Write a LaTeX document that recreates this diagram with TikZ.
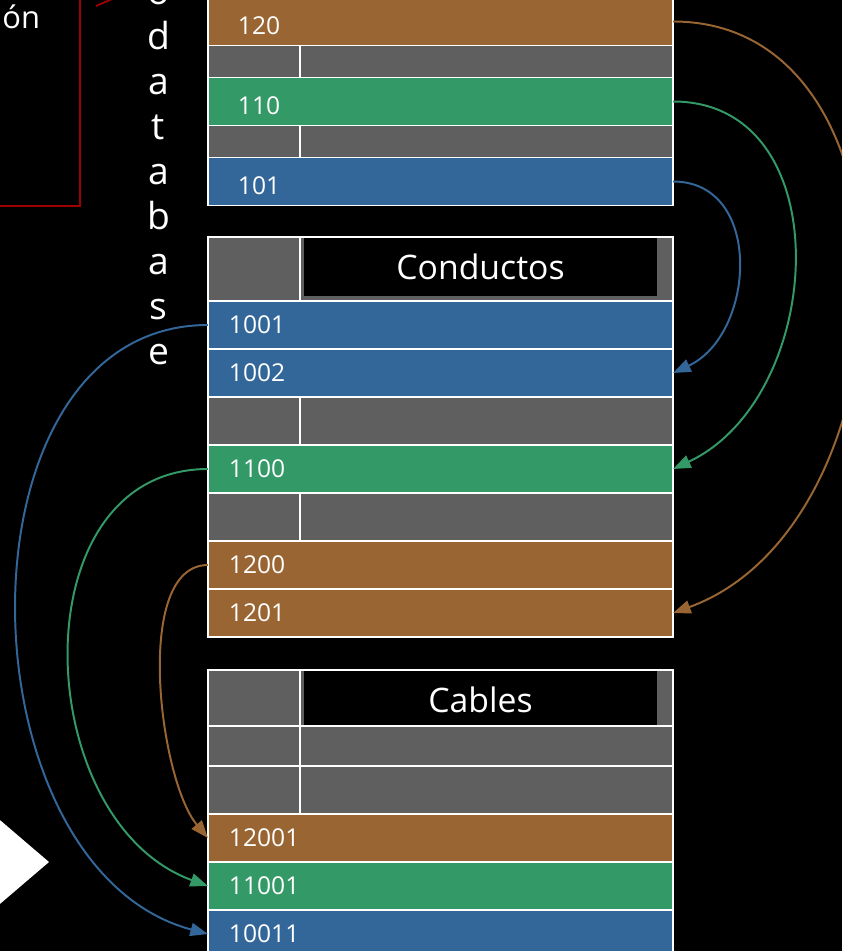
\documentclass[tikz,border=0pt]{standalone}
\usepackage{fontspec}
\setmainfont{Open Sans}
\usepackage{xcolor}
\definecolor{rowbrown}{HTML}{996633}
\definecolor{rowgreen}{HTML}{339966}
\definecolor{rowblue}{HTML}{336699}
\definecolor{rowgray}{HTML}{5F5F5F}
\definecolor{boxred}{HTML}{A00000}
\usepackage{tikz}
\usetikzlibrary{arrows.meta, positioning}

\begin{document}
\begin{tikzpicture}[
  x=0.025cm, y=-0.025cm,
  every node/.style={text=white, outer sep=0pt},
  datarow/.style={rectangle, draw=white, line width=1pt, minimum width=11.625cm,
                  minimum height=1.2cm, text width=10.575cm, inner xsep=0.525cm,
                  inner ysep=0pt, align=left, font=\fontsize{17.5}{20}\selectfont},
  toprow/.style={datarow, text width=10.125cm, inner xsep=0.75cm,
                 text height=18.2pt, text depth=0pt},
  keycell/.style={rectangle, draw=white, line width=1pt, fill=rowgray,
                  minimum width=2.3cm, inner sep=0pt},
  gapcell/.style={keycell, minimum width=9.325cm},
  titlebox/.style={rectangle, fill=black, minimum width=8.825cm, inner sep=0pt,
                   font=\fontsize{24}{28}\selectfont},
  linkarr/.style={-{Triangle[length=4.4mm, width=3.3mm]}, line width=1.4pt}
]
  \useasboundingbox (0,0) rectangle (842,951);
  \fill[black] (0,0) rectangle (842,951);
  \clip (0,0) rectangle (842,951);

  % frame on the left and its word
  \draw[boxred, line width=1.3pt] (-20,-20) rectangle (80,206);
  \node[font=\fontsize{22}{26}\selectfont, anchor=base east, inner sep=0pt] (tagword) at (40,29) {ón};
  \coordinate (redA) at (96,6);
  \coordinate (redB) at (124,-6);
  \draw[boxred, line width=1.3pt] (redA) -- (redB);

  % vertical title (base = last line)
  \node[font=\fontsize{26.5}{32}\selectfont, align=center, anchor=base, inner sep=0pt] (dbword)
    at (158.5,364) {o\\d\\a\\t\\a\\b\\a\\s\\e};

  % first table
  \node[toprow, fill=rowbrown] (c120) at (440.5,21.5) {120};
  \node[keycell, minimum height=0.8cm] (t1k1) at (254,61.5) {};
  \node[gapcell, minimum height=0.8cm] (t1w1) at (486.5,61.5) {};
  \node[toprow, fill=rowgreen] (c110) at (440.5,101.5) {110};
  \node[keycell, minimum height=0.8cm] (t1k2) at (254,141.5) {};
  \node[gapcell, minimum height=0.8cm] (t1w2) at (486.5,141.5) {};
  \node[toprow, fill=rowblue] (c101) at (440.5,181.5) {101};

  % Conductos
  \node[keycell, minimum height=1.6cm] (t2k0) at (254,269) {};
  \node[gapcell, minimum height=1.6cm] (t2w0) at (486.5,269) {};
  \node[titlebox, minimum height=1.45cm] (conductos) at (480.5,267) {Conductos};
  \node[datarow, fill=rowblue] (c1001) at (440.5,325) {1001};
  \node[datarow, fill=rowblue] (c1002) at (440.5,373) {1002};
  \node[keycell, minimum height=1.2cm] (t2k1) at (254,421) {};
  \node[gapcell, minimum height=1.2cm] (t2w1) at (486.5,421) {};
  \node[datarow, fill=rowgreen] (c1100) at (440.5,469) {1100};
  \node[keycell, minimum height=1.2cm] (t2k2) at (254,517) {};
  \node[gapcell, minimum height=1.2cm] (t2w2) at (486.5,517) {};
  \node[datarow, fill=rowbrown] (c1200) at (440.5,565) {1200};
  \node[datarow, fill=rowbrown] (c1201) at (440.5,613) {1201};

  % Cables
  \node[keycell, minimum height=1.4cm] (t3k0) at (254,698) {};
  \node[gapcell, minimum height=1.4cm] (t3w0) at (486.5,698) {};
  \node[titlebox, minimum height=1.425cm] (cables) at (480.5,699.5) {Cables};
  \node[keycell, minimum height=1.0cm] (t3k1) at (254,746) {};
  \node[gapcell, minimum height=1.0cm] (t3w1) at (486.5,746) {};
  \node[keycell, minimum height=1.2cm] (t3k2) at (254,790) {};
  \node[gapcell, minimum height=1.2cm] (t3w2) at (486.5,790) {};
  \node[datarow, fill=rowbrown] (c12001) at (440.5,838) {12001};
  \node[datarow, fill=rowgreen] (c11001) at (440.5,886) {11001};
  \node[datarow, fill=rowblue] (c10011) at (440.5,934) {10011};

  % links on the right
  \draw[linkarr, rowblue] (c101.east) to[out=0, in=25, looseness=1.22] (c1002.east);
  \draw[linkarr, rowgreen] (c110.east) to[out=0, in=25, looseness=1.18] (c1100.east);
  \draw[linkarr, rowbrown] (c120.east) to[out=0, in=20, looseness=1.12] (c1201.east);
  % links on the left
  \draw[linkarr, rowblue] (c1001.west) to[out=180, in=165, looseness=1.09] (c10011.west);
  \draw[linkarr, rowgreen] (c1100.west) to[out=180, in=160, looseness=1.17] (c11001.west);
  \draw[linkarr, rowbrown] (c1200.west) to[out=180, in=130, looseness=0.71] (c12001.west);

  \fill[white] (-20,803) -- (49,862) -- (-20,921) -- cycle;
\end{tikzpicture}
\end{document}
